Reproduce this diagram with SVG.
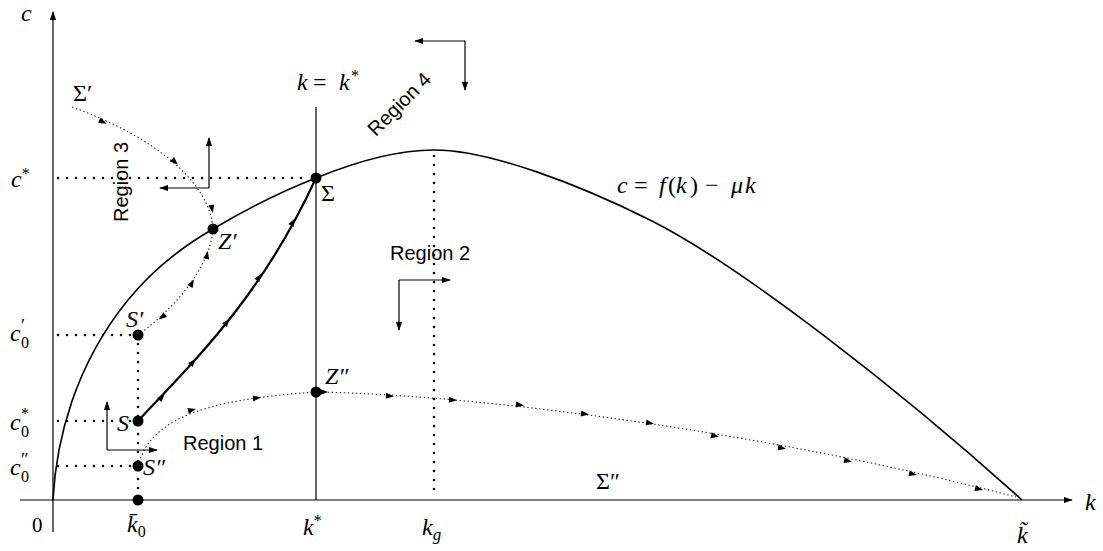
<svg xmlns="http://www.w3.org/2000/svg" xmlns:xlink="http://www.w3.org/1999/xlink" width="1103" height="551" viewBox="0 0 1103 551">
<style>
.ln{stroke:#000;fill:none;stroke-width:1.2}
.fk{stroke:#000;fill:none;stroke-width:1.6}
.thick{stroke:#000;fill:none;stroke-width:2.2}
.traj{stroke:#222;fill:none;stroke-width:1.1;stroke-dasharray:1.4 2.6}
.dots{stroke:#000;fill:none;stroke-width:2.6;stroke-linecap:round;stroke-dasharray:0 9}
.m{font-family:"Liberation Serif","DejaVu Serif",serif;font-style:italic;font-size:24px;fill:#000}
.rm{font-style:normal}
.sm{font-size:16px;font-style:normal}
.sans{font-family:"Liberation Sans",Arial,sans-serif;font-size:20px;fill:#000}
.pt{fill:#000}
</style>
<defs>
<marker id="arr" viewBox="0 0 10 10" refX="9" refY="5" markerWidth="9" markerHeight="9" markerUnits="userSpaceOnUse" orient="auto"><path d="M0,1.5 L10,5 L0,8.5 Z" fill="#000"/></marker>
<path id="ah" d="M4,0 L-4,-3 L-4,3 Z" fill="#000"/>
</defs>
<rect width="1103" height="551" fill="#fff"/>

<g id="axes">
<line class="ln" x1="20" y1="500" x2="1072" y2="500" marker-end="url(#arr)"/>
<line class="ln" x1="53" y1="532" x2="53" y2="12" marker-end="url(#arr)"/>
<line class="ln" x1="316" y1="107" x2="316" y2="500" stroke-width="1"/>
</g>

<g id="guides">
<line class="dots" x1="58" y1="178" x2="310" y2="178"/>
<line class="dots" x1="58" y1="335" x2="132" y2="335"/>
<line class="dots" x1="58" y1="421" x2="132" y2="421"/>
<line class="dots" x1="58" y1="466" x2="132" y2="466"/>
<line class="dots" x1="138" y1="344" x2="138" y2="496"/>
<line class="dots" x1="434" y1="156" x2="434" y2="497"/>
</g>

<g id="curve-f">
<path class="fk" d="M53,500 C56,440 75,365 128,300 C150,273 180,248 213,229 C245,210 280,192 316,178 C360,160 400,150 434,150 C490,150 580,185 650,220 C740,265 900,390 1022,500"/>
</g>

<g id="connectors">
<path class="thick" d="M138,421 C190,365 260,300 316,178"/>
<path class="traj" d="M72,107 C150,135 210,180 213,229"/>
<path class="traj" d="M138,335 C170,312 210,270 213,229"/>
<path class="traj" d="M138,466 C150,420 200,400 316,392"/>
<path class="traj" d="M316,392 C500,395 800,440 1016,497"/>
<g id="arrowheads">
<use xlink:href="#ah" transform="translate(162,397) rotate(-47)"/>
<use xlink:href="#ah" transform="translate(193,362) rotate(-49)"/>
<use xlink:href="#ah" transform="translate(227,322) rotate(-52)"/>
<use xlink:href="#ah" transform="translate(259,277) rotate(-57)"/>
<use xlink:href="#ah" transform="translate(293,222) rotate(-60)"/>
<use xlink:href="#ah" transform="translate(103,122) rotate(26)"/>
<use xlink:href="#ah" transform="translate(175,162) rotate(42)"/>
<use xlink:href="#ah" transform="translate(212,209) rotate(80)"/>
<use xlink:href="#ah" transform="translate(207,255) rotate(-78)"/>
<use xlink:href="#ah" transform="translate(192,283) rotate(-60)"/>
<use xlink:href="#ah" transform="translate(162,317) rotate(143)"/>
<use xlink:href="#ah" transform="translate(192,410) rotate(-14)"/>
<use xlink:href="#ah" transform="translate(257,398) rotate(-6)"/>
<use xlink:href="#ah" transform="translate(324,392) rotate(0)"/>
<use xlink:href="#ah" transform="translate(390,396) rotate(3)"/>
<use xlink:href="#ah" transform="translate(453,400) rotate(4)"/>
<use xlink:href="#ah" transform="translate(520,405) rotate(6)"/>
<use xlink:href="#ah" transform="translate(585,414) rotate(7)"/>
<use xlink:href="#ah" transform="translate(650,423) rotate(9)"/>
<use xlink:href="#ah" transform="translate(715,436) rotate(10)"/>
<use xlink:href="#ah" transform="translate(782,448) rotate(11)"/>
<use xlink:href="#ah" transform="translate(848,461) rotate(12)"/>
<use xlink:href="#ah" transform="translate(913,474) rotate(13)"/>
<use xlink:href="#ah" transform="translate(979,489) rotate(14)"/>
</g>
<g id="direction-arrows">
<polyline class="ln" points="107,450 107,402" marker-end="url(#arr)"/>
<polyline class="ln" points="107,450 157,450" marker-end="url(#arr)"/>
<polyline class="ln" points="399,280 450,280" marker-end="url(#arr)"/>
<polyline class="ln" points="399,280 399,330" marker-end="url(#arr)"/>
<polyline class="ln" points="209,188 209,138" marker-end="url(#arr)"/>
<polyline class="ln" points="209,188 160,188" marker-end="url(#arr)"/>
<polyline class="ln" points="465,41 415,41" marker-end="url(#arr)"/>
<polyline class="ln" points="465,41 465,90" marker-end="url(#arr)"/>
</g>
</g>

<g id="node-Sigma"><circle class="pt" cx="316" cy="178" r="5.5"/><text class="m rm" x="321" y="201">Σ</text></g>
<g id="node-Zp"><circle class="pt" cx="213" cy="229" r="5.5"/><text class="m" x="218" y="249">Z′</text></g>
<g id="node-Sp"><circle class="pt" cx="138" cy="335" r="5.5"/><text class="m" x="126" y="327">S′</text></g>
<g id="node-S"><circle class="pt" cx="138" cy="421" r="5.5"/><text class="m" x="117" y="431">S</text></g>
<g id="node-Spp"><circle class="pt" cx="138" cy="466" r="5.5"/><text class="m" x="143" y="475">S″</text></g>
<g id="node-k0"><circle class="pt" cx="138" cy="500" r="5.5"/></g>
<g id="node-Zpp"><circle class="pt" cx="316" cy="392" r="5.5"/><text class="m" x="325" y="384">Z″</text></g>
<g id="node-Sigmap"><text class="m rm" x="73" y="101">Σ′</text></g>
<g id="node-Sigmapp"><text class="m rm" x="596" y="489">Σ″</text></g>

<g id="labels">
<text class="m" x="21" y="21">c</text>
<text class="m" x="1085" y="510">k</text>
<text class="m rm" x="32" y="532" style="font-size:21px">0</text>
<text class="m" x="127" y="532">k̄<tspan class="sm" dy="5">0</tspan></text>
<text class="m" x="303" y="535">k<tspan class="sm" dy="-9">*</tspan></text>
<text class="m" x="422" y="535">k<tspan style="font-size:17px" dy="5">g</tspan></text>
<text class="m" x="1017" y="543">k̃</text>
<text class="m" x="11" y="187">c<tspan class="sm" dy="-8">*</tspan></text>
<text class="m"><tspan x="10" y="341">c</tspan><tspan class="sm" style="font-size:18px" x="21" y="332">′</tspan><tspan class="sm" x="21" y="348">0</tspan></text>
<text class="m"><tspan x="10" y="430">c</tspan><tspan class="sm" x="21" y="419">*</tspan><tspan class="sm" x="21" y="437">0</tspan></text>
<text class="m"><tspan x="10" y="475">c</tspan><tspan class="sm" style="font-size:18px" x="21" y="466">″</tspan><tspan class="sm" x="21" y="482">0</tspan></text>
<text class="m" y="90"><tspan x="297">k</tspan><tspan class="rm" x="313">=</tspan><tspan x="339">k</tspan><tspan class="sm" x="351" y="81">*</tspan></text>
<text class="m" y="193"><tspan x="617">c</tspan><tspan class="rm" x="634">=</tspan><tspan x="659">f</tspan><tspan class="rm" x="668">(</tspan><tspan x="676">k</tspan><tspan class="rm" x="690">)</tspan><tspan class="rm" x="705">−</tspan><tspan x="731">μ</tspan><tspan x="745">k</tspan></text>
<text class="sans" x="183" y="450">Region 1</text>
<text class="sans" x="390" y="260">Region 2</text>
<text class="sans" text-anchor="middle" transform="translate(128,182) rotate(-90)">Region 3</text>
<text class="sans" text-anchor="middle" transform="translate(404,109) rotate(-45)">Region 4</text>
</g>
</svg>
